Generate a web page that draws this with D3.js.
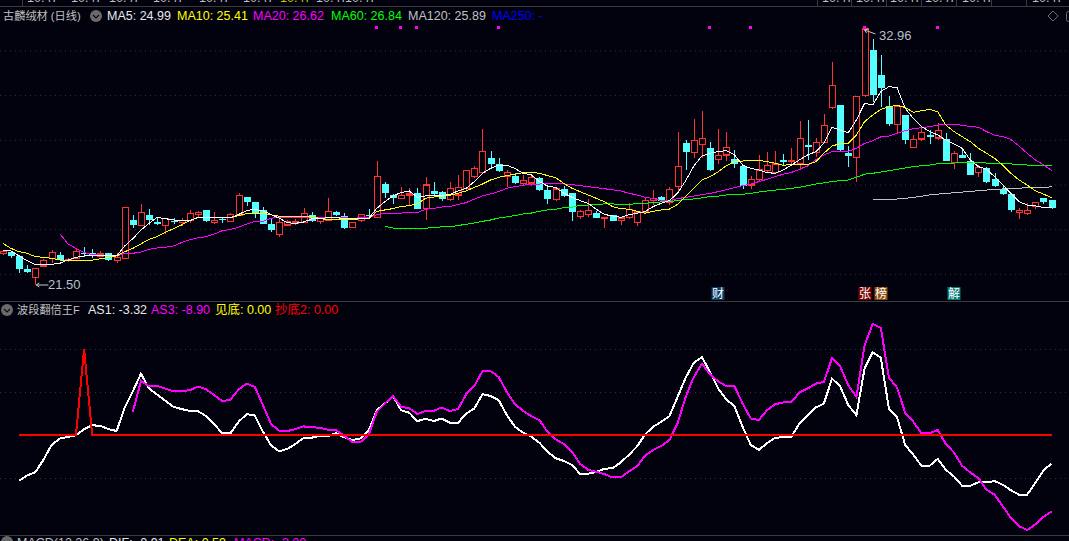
<!DOCTYPE html>
<meta charset="utf-8">
<script src="https://d3js.org/d3.v7.min.js"></script>
<style type="text/css">
html, body { margin:0; padding:0; background:#02020e; overflow:hidden; }
svg { display:block; }
text { font-family:"Liberation Sans","Noto Sans CJK SC",sans-serif; font-size:12.5px; }
text.title { font-size:11.2px; }
</style>
<body>
</body>
<script>

  // candles (price, one row = 10 days)
  var open = [
    22.90,22.98,22.81,22.22,21.84,22.35,22.68,22.84,22.59,22.69,
    22.92,22.92,22.77,22.92,22.59,22.69,24.40,24.16,24.64,24.31,
    24.17,24.38,24.29,24.38,24.66,24.86,24.31,24.44,24.34,24.64,
    25.43,25.20,24.86,24.23,23.77,24.19,24.26,24.31,24.62,24.34,
    24.38,24.78,24.59,24.07,24.38,24.65,24.52,26.03,25.53,25.37,
    25.50,25.61,24.92,25.71,25.65,25.34,25.53,25.82,26.37,26.53,
    27.19,26.92,26.38,26.40,26.04,26.07,26.30,25.76,25.32,25.80,
    25.62,24.56,24.65,24.74,24.47,24.62,24.40,24.52,24.31,24.77,
    25.29,25.44,25.19,25.90,27.85,27.43,27.80,27.63,27.13,27.32,
    27.13,26.84,25.98,26.23,26.62,26.53,27.08,27.02,26.92,27.75,
    27.43,27.87,29.44,29.56,27.43,27.20,29.98,32.02,30.90,29.51,
    28.68,29.11,27.65,28.03,28.20,28.08,28.02,26.99,27.32,27.05,
    26.53,26.74,26.25,25.78,25.57,24.74,24.69,25.02,25.40,25.31
  ];
  var close = [
    22.99,22.80,22.22,22.10,22.25,22.59,22.96,22.62,22.65,23.01,
    22.89,22.83,22.89,22.62,22.74,24.98,24.20,24.75,24.41,24.25,
    24.47,24.35,24.40,24.71,24.75,24.38,24.40,24.41,24.66,25.52,
    25.22,24.71,24.23,23.96,24.31,24.34,24.32,24.71,24.38,24.47,
    24.80,24.64,24.05,24.31,24.65,24.61,26.37,25.62,25.41,25.52,
    25.58,24.91,25.97,25.58,25.35,25.82,25.86,26.64,26.73,27.49,
    26.92,26.61,26.55,26.07,26.19,26.31,25.76,25.35,25.80,25.49,
    24.79,24.80,24.85,24.52,24.53,24.38,24.50,24.88,24.77,25.29,
    25.37,25.25,25.78,26.81,27.47,27.98,28.07,26.66,27.31,27.66,
    26.90,25.93,26.23,26.65,26.84,26.92,27.02,27.08,28.07,27.69,
    27.87,28.65,30.44,27.55,27.28,29.95,32.96,30.01,30.32,28.71,
    29.50,27.99,28.02,28.33,28.14,28.42,27.05,27.39,27.19,26.42,
    26.77,26.11,25.93,25.57,24.86,24.84,24.84,25.20,25.22,24.96
  ];
  var high = [
    23.07,23.02,22.84,22.40,22.25,22.65,23.07,22.98,22.71,23.14,
    23.19,23.10,23.01,22.95,22.92,24.98,24.62,25.13,24.89,24.53,
    24.49,24.52,24.49,24.86,24.83,24.86,24.77,24.56,24.71,25.61,
    25.43,25.20,24.99,24.44,24.49,24.41,24.44,24.95,24.77,24.56,
    25.40,24.83,24.74,24.31,24.68,24.91,27.06,26.09,25.58,25.88,
    25.83,25.83,26.32,26.12,25.73,26.12,26.43,26.67,26.83,28.49,
    27.50,27.19,26.65,26.50,26.41,26.41,26.35,25.94,25.83,25.94,
    25.62,24.86,25.34,24.83,24.56,24.65,24.53,25.16,24.83,25.43,
    25.76,25.47,25.88,28.35,27.99,28.93,29.29,27.90,28.48,28.35,
    27.54,26.84,26.38,27.32,27.45,27.50,27.35,27.63,28.84,28.89,
    28.07,29.16,31.49,29.56,27.72,29.95,32.96,32.51,31.80,29.96,
    29.56,29.11,28.20,28.51,28.42,28.74,28.32,27.51,27.62,27.39,
    26.87,26.80,26.50,25.98,25.60,24.93,25.19,25.23,25.40,25.31
  ];
  var low = [
    22.84,22.69,22.05,22.02,21.50,22.32,22.47,22.59,22.55,22.65,
    22.74,22.69,22.74,22.59,22.50,22.69,24.05,24.14,24.19,24.19,
    23.78,24.23,24.14,24.29,24.49,24.34,24.23,24.26,24.32,24.62,
    25.04,24.49,24.22,23.86,23.65,24.19,24.19,24.26,24.34,24.23,
    24.37,24.61,24.01,24.07,24.34,24.49,24.49,25.40,25.13,25.35,
    25.09,24.91,24.41,25.46,25.28,25.25,25.31,25.76,26.28,26.50,
    26.77,26.56,25.88,26.03,25.98,25.94,25.71,25.12,25.26,25.43,
    24.37,24.46,24.56,24.52,24.06,24.38,24.19,24.47,24.14,24.74,
    25.09,25.22,25.09,25.68,26.65,27.20,27.20,26.62,26.92,27.05,
    26.72,25.81,25.81,26.12,26.50,26.50,26.83,26.84,26.65,27.10,
    27.24,27.84,29.37,27.47,26.80,26.13,29.93,29.71,29.45,28.62,
    28.29,27.81,27.65,27.96,27.81,27.99,27.04,26.69,27.17,26.42,
    26.35,26.05,25.87,25.53,24.77,24.46,24.65,24.89,25.13,24.92
  ];

  // moving averages, xxFrom = first day the line has a value
  var ma5From = 0;
  var ma5 = [
    23.07,23.02,22.80,22.59,22.41,22.40,22.43,22.47,22.62,22.74,
    22.80,22.80,22.80,22.83,22.80,23.25,23.58,23.96,24.26,24.53,
    24.47,24.41,24.37,24.38,24.52,24.52,24.50,24.50,24.50,24.66,
    24.83,24.89,24.81,24.66,24.49,24.29,24.26,24.32,24.46,24.47,
    24.52,24.52,24.47,24.47,24.49,24.49,24.93,25.23,25.49,25.64,
    25.71,25.43,25.49,25.49,25.49,25.56,25.71,25.83,26.13,26.50,
    26.72,26.87,26.86,26.72,26.50,26.43,26.13,25.93,25.87,25.61,
    25.43,25.28,25.16,24.89,24.66,24.59,24.53,24.64,24.71,24.79,
    25.01,25.16,25.28,25.61,26.17,26.83,27.28,27.40,27.47,27.52,
    27.32,26.87,26.72,26.65,26.53,26.50,26.65,26.87,27.10,27.32,
    27.47,27.84,28.56,28.44,28.32,28.89,29.63,29.56,30.16,30.38,
    30.33,29.41,28.96,28.59,28.37,28.22,27.99,27.81,27.62,27.10,
    26.80,26.68,26.35,25.98,25.60,25.23,25.08,25.04,24.97,24.99
  ];
  var ma10From = 0;
  var ma10 = [
    23.37,23.14,22.99,22.92,22.77,22.74,22.69,22.62,22.61,22.61,
    22.61,22.61,22.67,22.74,22.80,22.99,23.14,23.34,23.55,23.67,
    23.86,24.02,24.19,24.38,24.53,24.52,24.52,24.52,24.52,24.61,
    24.69,24.71,24.71,24.64,24.58,24.58,24.58,24.58,24.58,24.47,
    24.43,24.41,24.41,24.41,24.47,24.47,24.79,24.86,24.92,25.01,
    25.05,25.13,25.38,25.44,25.47,25.52,25.61,25.71,25.87,26.02,
    26.20,26.32,26.40,26.46,26.53,26.55,26.50,26.40,26.31,26.05,
    25.83,25.68,25.53,25.38,25.23,25.01,24.92,24.89,24.80,24.71,
    24.80,24.86,24.90,25.11,25.46,25.83,26.20,26.35,26.57,26.84,
    27.02,27.05,27.08,27.08,27.02,26.95,26.86,26.90,26.90,26.90,
    27.02,27.40,27.72,27.83,27.84,28.22,28.81,29.11,29.36,29.48,
    29.54,29.45,29.23,29.30,29.36,29.26,28.66,28.37,28.14,27.92,
    27.62,27.40,27.17,26.87,26.50,26.20,25.98,25.72,25.57,25.41
  ];
  var ma20From = 7;
  var ma20 = [
    23.81,23.34,23.14,22.95,22.86,22.83,22.80,22.80,22.92,22.92,
    22.98,23.10,23.16,23.19,23.25,23.40,23.52,23.61,23.66,23.78,
    23.93,23.99,24.08,24.23,24.34,24.35,24.49,24.53,24.52,24.52,
    24.52,24.49,24.52,24.52,24.53,24.52,24.47,24.52,24.52,24.64,
    24.71,24.71,24.72,24.74,24.74,24.89,24.93,24.99,25.01,25.10,
    25.19,25.34,25.49,25.58,25.68,25.83,25.90,25.96,26.02,26.02,
    26.05,26.05,26.02,25.99,25.95,25.90,25.86,25.81,25.76,25.71,
    25.61,25.53,25.43,25.37,25.28,25.28,25.37,25.42,25.48,25.54,
    25.60,25.68,25.77,25.86,25.95,26.02,26.13,26.23,26.35,26.46,
    26.54,26.68,26.83,27.10,27.32,27.47,27.47,27.48,27.62,27.84,
    27.96,28.13,28.17,28.29,28.41,28.50,28.54,28.59,28.66,28.69,
    28.69,28.65,28.60,28.56,28.37,28.20,28.14,28.02,27.72,27.40,
    27.10,26.89,26.62
  ];
  var ma60From = 47;
  var ma60 = [
    24.13,24.05,24.01,24.01,24.01,24.04,24.08,24.10,24.10,24.16,
    24.22,24.28,24.35,24.41,24.50,24.55,24.61,24.68,24.72,24.80,
    24.86,24.89,24.96,24.98,25.07,25.08,25.11,25.13,25.13,25.11,
    25.11,25.14,25.16,25.19,25.22,25.23,25.28,25.34,25.35,25.40,
    25.46,25.48,25.53,25.54,25.56,25.60,25.66,25.71,25.75,25.78,
    25.83,25.87,25.95,26.02,26.07,26.13,26.17,26.20,26.32,26.46,
    26.50,26.56,26.62,26.68,26.74,26.80,26.84,26.87,26.93,26.95,
    26.96,26.98,26.98,26.98,26.96,26.95,26.93,26.92,26.90,26.87,
    26.87,26.86,26.84
  ];
  var ma120From = 107;
  var ma120 = [
    25.34,25.31,25.34,25.35,25.38,25.42,25.47,25.53,25.57,25.60,
    25.63,25.66,25.69,25.72,25.75,25.78,25.80,25.81,25.83,25.86,
    25.87,25.88,25.89
  ];

  // lower panel
  var as1From = 2;
  var as1 = [
    -5.32,-4.70,-4.32,-2.89,-1.16,-0.42,-0.23,-0.04,0.69,1.12,
    1.08,0.69,0.46,3.20,5.09,7.13,5.40,4.70,3.97,3.28,
    3.01,2.81,2.78,2.20,1.27,0.19,0.19,1.54,2.43,2.27,
    0.39,-1.23,-1.89,-1.62,-1.04,-0.35,-0.31,-0.11,-0.11,0.19,
    -0.27,-0.58,-0.39,0.50,2.89,3.66,4.51,2.89,2.58,1.62,
    1.89,1.62,1.92,1.42,1.42,2.50,3.08,4.74,4.54,4.04,
    2.31,0.96,0.27,-0.20,-0.89,-1.93,-2.70,-3.01,-3.47,-4.51,
    -4.51,-4.28,-3.93,-3.86,-3.20,-2.31,-1.35,0.07,0.96,1.54,
    2.19,4.43,6.66,8.40,9.06,7.32,5.40,4.12,3.35,0.96,
    -1.16,-1.73,-0.96,-0.31,-0.27,-0.19,1.35,2.31,3.20,3.66,
    6.55,5.67,3.47,2.31,7.71,9.63,8.98,3.08,2.04,-1.16,
    -2.31,-3.58,-3.58,-2.77,-4.05,-4.82,-5.90,-5.90,-5.51,-5.51,
    -5.36,-5.78,-6.43,-6.94,-6.94,-5.59,-4.12,-3.32
  ];
  var as3From = 16;
  var as3 = [
    2.70,6.28,5.67,5.70,5.40,5.09,5.13,5.20,5.63,5.32,
    4.63,3.93,4.12,5.28,5.97,5.59,3.47,1.27,0.50,0.46,
    0.69,1.00,0.89,0.85,0.62,0.58,-0.11,-0.81,-0.81,0.00,
    2.69,3.66,4.54,3.27,3.12,2.43,2.81,2.81,3.20,2.77,
    3.04,4.74,5.70,7.43,7.43,6.74,5.01,3.58,2.81,2.19,
    1.73,0.38,-0.50,-1.04,-1.93,-3.36,-4.05,-4.28,-4.55,-4.94,
    -4.94,-4.24,-3.66,-2.39,-1.74,-1.27,-0.58,1.35,4.43,6.74,
    8.29,7.05,6.24,5.67,5.67,3.66,1.93,1.74,2.89,3.58,
    3.78,3.85,4.93,5.40,5.97,6.17,8.94,7.98,5.78,4.43,
    10.41,12.91,12.45,6.67,5.51,2.58,1.54,0.19,0.19,0.58,
    -1.04,-2.04,-3.58,-4.35,-5.01,-6.36,-6.94,-8.28,-9.63,-10.60,
    -11.06,-10.40,-9.52,-8.90
  ];
  var chaodiFrom = 2;
  var chaodi = [
    0,0,0,0,0,0,0,0,10,0,
    0,0,0,0,0,0,0,0,0,0,
    0,0,0,0,0,0,0,0,0,0,
    0,0,0,0,0,0,0,0,0,0,
    0,0,0,0,0,0,0,0,0,0,
    0,0,0,0,0,0,0,0,0,0,
    0,0,0,0,0,0,0,0,0,0,
    0,0,0,0,0,0,0,0,0,0,
    0,0,0,0,0,0,0,0,0,0,
    0,0,0,0,0,0,0,0,0,0,
    0,0,0,0,0,0,0,0,0,0,
    0,0,0,0,0,0,0,0,0,0,
    0,0,0,0,0,0,0,0
  ];

  var priceTicks = [22, 24, 26, 28, 30, 32];
  var lowerTicks = [-5, 5, 10];
  var signalDays = [46, 49, 51, 61, 87, 92, 106, 115];
  var badges = [
    {day: 88, label: "财", color: "#0a3d66"},
    {day: 106, label: "张", color: "#7a0505"},
    {day: 108, label: "榜", color: "#8a4a0a"},
    {day: 117, label: "解", color: "#057a7a"}
  ];
  var mainLegend = [
    {x: 107, label: "MA5: 24.99", color: "#e8e8e8"},
    {x: 177, label: "MA10: 25.41", color: "#ffff00"},
    {x: 253, label: "MA20: 26.62", color: "#ff00ff"},
    {x: 331, label: "MA60: 26.84", color: "#00ff00"},
    {x: 408, label: "MA120: 25.89", color: "#c0c0c0"},
    {x: 492, label: "MA250: -", color: "#0000ff"}
  ];
  var lowerLegend = [
    {x: 88, label: "AS1: -3.32", color: "#e8e8e8"},
    {x: 151, label: "AS3: -8.90", color: "#ff00ff"},
    {x: 215, label: "见底: 0.00", color: "#ffff00"},
    {x: 275, label: "抄底2: 0.00", color: "#ff0000"}
  ];
  var macdLegend = [
    {x: 17, label: "MACD(12,26,9)", color: "#c0c0c0"},
    {x: 109, label: "DIF: -0.91", color: "#e8e8e8"},
    {x: 169, label: "DEA: 0.59", color: "#ffff00"},
    {x: 234, label: "MACD: -3.00", color: "#ff00ff"}
  ];
  // tabs above the chart, only the feet of the text show
  var headerTabs = [
    {x: 27, label: "10.47"}, {x: 71, label: "10.47"}, {x: 109, label: "10.47"},
    {x: 153, label: "10.47"}, {x: 199, label: "10.47"}, {x: 243, label: "10.47"},
    {x: 280, label: "10.47", color: "#c8c800"}, {x: 316, label: "10.47"},
    {x: 345, label: "10.47"}, {x: 822, label: "10.47"}, {x: 856, label: "10.47"},
    {x: 890, label: "10.47"}, {x: 925, label: "10.47"}, {x: 962, label: "10.47"},
    {x: 1032, label: "10.47"}
  ];
  var tabDividers = [22, 817, 851, 886, 921, 956, 991, 1026];
  var panelLines = [6, 301, 535];

  var width = 1069, height = 541;
  var RED = "#ff3333", CYAN = "#54ffff", GRID = "#33332e";

  var svg = d3.select("body").append("svg")
      .attr("width", width)
      .attr("height", height);

  svg.append("rect")
    .attr("width", width)
    .attr("height", height)
    .attr("fill", "#02020e");

  var days = d3.range(open.length);
  var xScale = d3.scaleBand()
    .domain(days)
    .range([-1.27, 1055.6]);
  function xMid(i) { return xScale(i) + xScale.bandwidth() / 2; }

  var yPrice = d3.scaleLinear()
    .domain([21.5, 32.96])
    .range([285, 29]);

  var yLower = d3.scaleLinear()
    .domain([-5, 10])
    .range([478, 349]);

  // dotted grid
  function grid(scale, ticks) {
    var g = svg.append("g")
      .attr("class", "grid")
      .call(d3.axisRight(scale).tickValues(ticks).tickSize(width).tickFormat(""));
    g.select(".domain").remove();
    g.selectAll("line")
      .attr("stroke", GRID)
      .attr("stroke-dasharray", "1,4");
  }
  grid(yPrice, priceTicks);
  grid(yLower, lowerTicks);

  // header tabs
  svg.selectAll(".tab")
    .data(headerTabs)
    .enter().append("text")
    .attr("class", "tab")
    .attr("x", function(d) { return d.x; })
    .attr("y", 2)
    .attr("fill", function(d) { return d.color || "#c0c0c0"; })
    .text(function(d) { return d.label; });

  svg.selectAll(".tabDiv")
    .data(tabDividers)
    .enter().append("line")
    .attr("x1", function(d) { return d + 0.5; })
    .attr("x2", function(d) { return d + 0.5; })
    .attr("y1", 0)
    .attr("y2", 6)
    .attr("stroke", "#3a3a3a");

  svg.selectAll(".panelLine")
    .data(panelLines)
    .enter().append("line")
    .attr("x1", 0)
    .attr("x2", width)
    .attr("y1", function(d) { return d + 0.5; })
    .attr("y2", function(d) { return d + 0.5; })
    .attr("stroke", "#3a3a3a");

  // candles
  var candle = svg.selectAll(".candle")
    .data(days)
    .enter().append("g")
    .attr("class", "candle")
    .attr("shape-rendering", "crispEdges");

  candle.append("line")
    .attr("x1", function(i) { return Math.round(xMid(i)) + 0.5; })
    .attr("x2", function(i) { return Math.round(xMid(i)) + 0.5; })
    .attr("y1", function(i) { return yPrice(high[i]); })
    .attr("y2", function(i) { return yPrice(low[i]); })
    .attr("stroke", function(i) { return close[i] >= open[i] ? RED : CYAN; });

  candle.append("rect")
    .attr("x", function(i) { return Math.round(xMid(i)) - 3 + (close[i] >= open[i] ? 0.5 : 0); })
    .attr("width", function(i) { return close[i] >= open[i] ? 6 : 7; })
    .attr("y", function(i) { return yPrice(Math.max(open[i], close[i])); })
    .attr("height", function(i) { return Math.max(1, Math.abs(yPrice(open[i]) - yPrice(close[i]))); })
    .attr("fill", function(i) { return close[i] >= open[i] ? "#02020e" : CYAN; })
    .attr("stroke", function(i) { return close[i] >= open[i] ? RED : "none"; })
    .attr("stroke-width", 1.3);

  // a series is drawn from the day it starts on
  function drawLine(values, from, scale, color, w) {
    var line = d3.line()
      .x(function(v, i) { return xMid(from + i); })
      .y(function(v) { return scale(v); });
    svg.append("path")
      .datum(values)
      .attr("d", line)
      .attr("fill", "none")
      .attr("stroke", color)
      .attr("stroke-width", w)
      .attr("shape-rendering", "crispEdges");
  }

  drawLine(ma120, ma120From, yPrice, "#c0c0c0", 1);
  drawLine(ma60, ma60From, yPrice, "#00ff00", 1);
  drawLine(ma20, ma20From, yPrice, "#ff00ff", 1);
  drawLine(ma10, ma10From, yPrice, "#ffff00", 1);
  drawLine(ma5, ma5From, yPrice, "#ffffff", 1);

  drawLine(as1, as1From, yLower, "#ffffff", 2);
  drawLine(as3, as3From, yLower, "#ff00ff", 2);
  drawLine(chaodi, chaodiFrom, yLower, "#ff0000", 2);

  // magenta signal squares over the candles
  svg.selectAll(".signal")
    .data(signalDays)
    .enter().append("rect")
    .attr("class", "signal")
    .attr("x", function(d) { return Math.round(xMid(d)) - 2; })
    .attr("y", 26)
    .attr("width", 3)
    .attr("height", 3)
    .attr("fill", "#ff00ff");

  // high and low marks
  var lowDay = low.indexOf(d3.min(low)), highDay = high.indexOf(d3.max(high));

  svg.append("path")
    .attr("d", "M" + xMid(highDay) + "," + (yPrice(d3.max(high)) + 1) + "l11,4 m-11,-4 l4,-1 m-4,1 l2,3")
    .attr("fill", "none")
    .attr("stroke", "#c8c8c8");
  svg.append("text")
    .attr("x", 879)
    .attr("y", 40)
    .attr("fill", "#b8c0c8")
    .style("font-size", "13px")
    .text(d3.max(high).toFixed(2));

  svg.append("path")
    .attr("d", "M" + (xMid(lowDay) + 1) + "," + yPrice(d3.min(low)) + "h12 m-12,0 l3,-2 m-3,2 l3,2")
    .attr("fill", "none")
    .attr("stroke", "#c8c8c8");
  svg.append("text")
    .attr("x", 48)
    .attr("y", 289)
    .attr("fill", "#b8c0c8")
    .style("font-size", "13px")
    .text(d3.min(low).toFixed(2));

  // badges above the lower panel
  var badge = svg.selectAll(".badge")
    .data(badges)
    .enter().append("g")
    .attr("class", "badge");
  badge.append("rect")
    .attr("x", function(d) { return Math.round(xMid(d.day)) - 6.5; })
    .attr("y", 287)
    .attr("width", 13)
    .attr("height", 13)
    .attr("fill", function(d) { return d.color; });
  badge.append("text")
    .attr("x", function(d) { return Math.round(xMid(d.day)); })
    .attr("y", 298)
    .attr("text-anchor", "middle")
    .attr("fill", "#ffffff")
    .style("font-size", "12px")
    .text(function(d) { return d.label; });

  // legends
  function legend(items, y) {
    svg.selectAll(null)
      .data(items)
      .enter().append("text")
      .attr("x", function(d) { return d.x; })
      .attr("y", y)
      .attr("fill", function(d) { return d.color; })
      .text(function(d) { return d.label; });
  }
  legend(mainLegend, 20);
  legend(lowerLegend, 314);
  legend(macdLegend, 547);

  svg.append("text")
    .attr("class", "title")
    .attr("x", 3)
    .attr("y", 20)
    .attr("fill", "#c0c0c0")
    .text("古麟绒材 (日线)");

  svg.append("text")
    .attr("class", "title")
    .attr("x", 17)
    .attr("y", 314)
    .attr("fill", "#c0c0c0")
    .text("波段翻倍王F");

  // round drop-down buttons
  function dropButton(cx, cy) {
    svg.append("circle")
      .attr("cx", cx)
      .attr("cy", cy)
      .attr("r", 6)
      .attr("fill", "#6a6a6a");
    svg.append("path")
      .attr("d", "M" + (cx - 3) + "," + (cy - 1) + "l3,3 l3,-3")
      .attr("fill", "none")
      .attr("stroke", "#101010")
      .attr("stroke-width", 1.2);
  }
  dropButton(96, 16);
  dropButton(7, 310);
  dropButton(7, 542);

  // icons at the top right
  svg.append("path")
    .attr("d", "M1053,11l5,5l-5,5l-5,-5z")
    .attr("fill", "none")
    .attr("stroke", "#6a6a6a");
  svg.append("rect")
    .attr("x", 1066.5)
    .attr("y", 11.5)
    .attr("width", 8)
    .attr("height", 10)
    .attr("rx", 2)
    .attr("fill", "none")
    .attr("stroke", "#6a6a6a");

</script>
